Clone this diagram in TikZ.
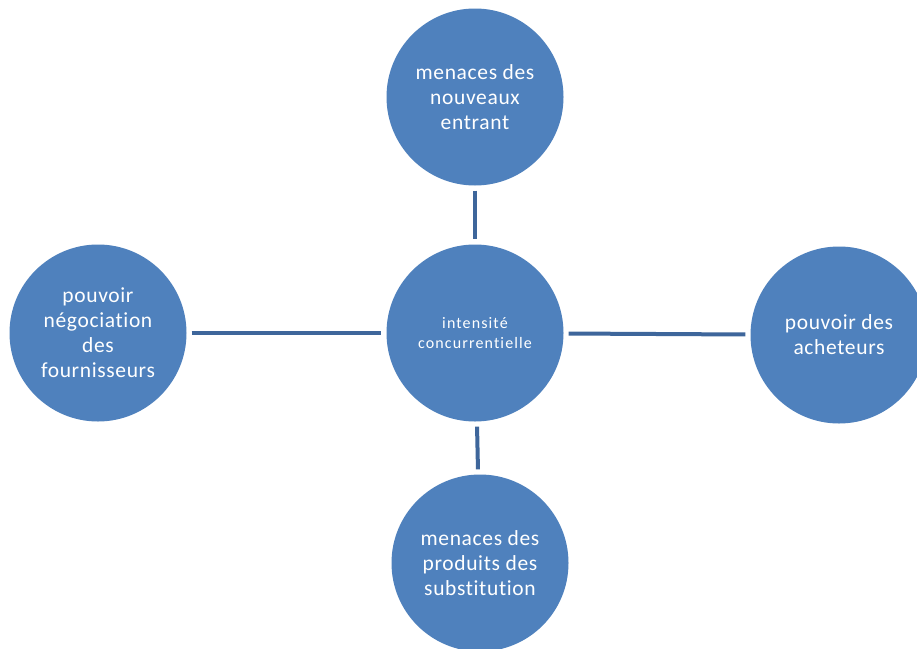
\documentclass[tikz,border=0pt]{standalone}
\usepackage{fontspec}
\setmainfont{Carlito}[Ligatures=NoCommon]
\newfontfamily\forcefont{Carlito}[Ligatures=NoCommon, LetterSpace=3]
\newfontfamily\hubfont{Carlito}[Ligatures=NoCommon, LetterSpace=7]
\definecolor{circblue}{RGB}{79,129,189}
\definecolor{linkblue}{RGB}{62,102,155}
\begin{document}
\begin{tikzpicture}[x=1pt,y=-1pt,
  force/.style={circle, fill=circblue, draw=none, minimum size=177pt, inner sep=0pt,
    text=white, align=center, font=\forcefont\fontsize{21.5}{25}\selectfont},
  hub/.style={force, font=\hubfont\fontsize{16}{20}\selectfont},
  link/.style={draw=linkblue, line width=4pt, shorten <=5pt, shorten >=5pt}]
\clip (0,0) rectangle (917,648);
\fill[white] (0,0) rectangle (917,648);
\node[hub]   (c) at (475,333) {intensité\\concurrentielle};
\node[force] (t) at (475,97)  {menaces des\\nouveaux\\entrant};
\node[force] (l) at (98,333)  {pouvoir\\négociation\\des\\fournisseurs};
\node[force] (r) at (839,335) {pouvoir des\\acheteurs};
\node[force] (b) at (480,563) {menaces des\\produits des\\substitution};
\draw[link] (t) -- (c);
\draw[link] (l) -- (c);
\draw[link] (c) -- (r);
\draw[link] (c) -- (b);
\end{tikzpicture}
\end{document}
